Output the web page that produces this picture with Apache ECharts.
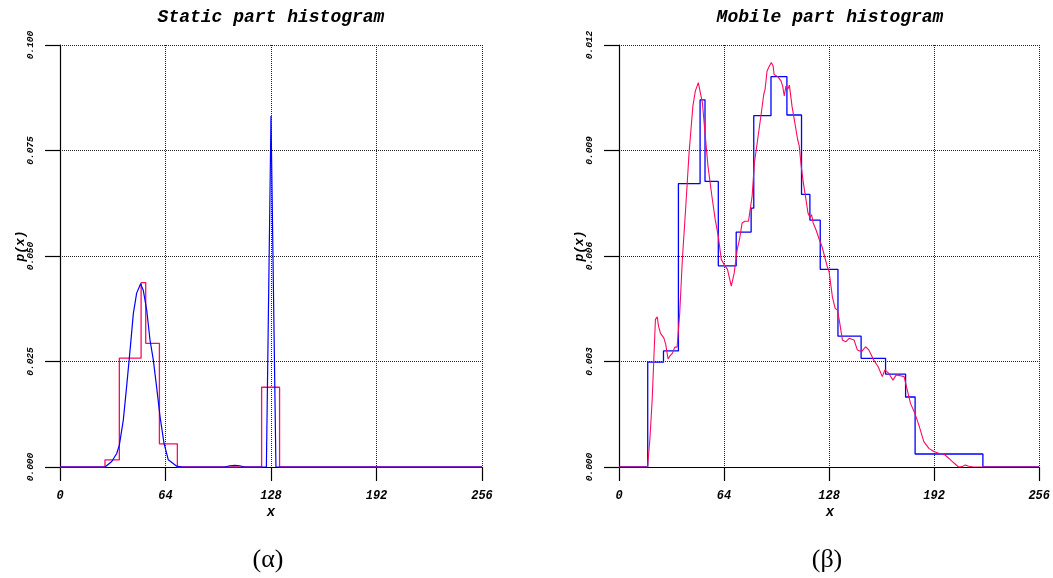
<!DOCTYPE html>
<html><head><meta charset="utf-8">
<script src="https://cdn.jsdelivr.net/npm/echarts@6/dist/echarts.min.js"></script>
<style>html,body{margin:0;padding:0;background:#fff}#c{width:1053px;height:578px}</style>
</head><body><div id="c"></div><script>
// ---- data ----
const xTicks = [0, 64, 128, 192, 256];
const staticYTicks = [0, 0.025, 0.05, 0.075, 0.1];
const mobileYTicks = [0, 0.003, 0.006, 0.009, 0.012];

// Static part: fitted density (blue)
const staticCurve = [[0,0],[27.3,0],[31.4,0.0013],[34.4,0.0032],[36.0,0.0052],[38.4,0.0111],[40.4,0.0190],[42.5,0.0277],[44.5,0.0364],[46.5,0.0412],[48.9,0.0434],[50.5,0.0419],[52.6,0.0372],[54.6,0.0301],[56.6,0.0254],[58.6,0.0190],[60.7,0.0119],[63.1,0.0056],[65.7,0.0017],[70.8,0.0002],[74,0],[100,0],[103,0.0003],[106,0.0004],[109,0.0003],[112,0],[125.2,0],[128,0.0832],[131,0],[256,0]];
// Static part: histogram (red) bin edges / heights
const staticBinEdges = [27.3, 36.0, 49.2, 52.0, 60.3, 71.2, 122.3, 133.2];
const staticBinHeights = [0.0017, 0.0258, 0.0437, 0.0293, 0.0055, 0, 0.0189];

// Mobile part: histogram (blue) bin edges / heights
const mobileBinEdges = [17.5, 27.1, 36.2, 49.4, 52.4, 60.5, 71.4, 80.5, 82.1, 92.6, 102.3, 111.2, 116.3, 122.6, 133.4, 147.5, 162.4, 174.6, 180.4, 221.7];
const mobileBinHeights = [0.00298, 0.0033, 0.00806, 0.01044, 0.00812, 0.00572, 0.00668, 0.00736, 0.00999, 0.0111, 0.01001, 0.00775, 0.00702, 0.00562, 0.00372, 0.00309, 0.00264, 0.00199, 0.00037];
// Mobile part: density estimate (red)
const mobileCurve = [[0,0],[17.4,0],[18.8,0.00078],[20.2,0.0019],[21.2,0.00305],[22.2,0.0042],[23.3,0.00427],[24.1,0.0040],[25.3,0.0038],[27.3,0.00367],[28.5,0.00348],[29.9,0.00307],[30.9,0.00315],[32.6,0.00324],[34.0,0.00341],[35.4,0.00341],[37.0,0.00438],[38.6,0.0059],[40.7,0.00742],[42.7,0.00894],[45.0,0.01026],[46.5,0.01069],[48.3,0.01093],[49.4,0.01093],[50.8,0.01036],[52.4,0.0095],[54.2,0.00856],[56.6,0.0077],[58.6,0.00704],[60.5,0.00656],[62.3,0.0059],[64.3,0.00574],[66.1,0.00562],[68.4,0.00514],[70.2,0.00552],[72.0,0.00618],[73.4,0.00647],[75.0,0.00694],[76.7,0.00699],[78.9,0.00699],[79.7,0.00699],[81.1,0.0077],[82.5,0.00865],[84.5,0.00932],[86.6,0.01003],[88.2,0.0106],[89.0,0.01074],[90.2,0.01126],[91.6,0.0114],[92.8,0.0115],[93.9,0.0114],[94.5,0.01116],[95.3,0.01121],[96.7,0.0111],[98.7,0.01098],[99.7,0.01083],[100.7,0.01055],[101.7,0.01083],[102.8,0.01074],[103.8,0.01086],[105.4,0.01026],[106.8,0.00988],[108.8,0.00932],[109.8,0.00913],[111.0,0.00856],[112.3,0.00808],[113.9,0.00761],[115.1,0.00723],[116.3,0.00709],[117.3,0.00718],[118.3,0.00694],[120.3,0.00671],[122.0,0.00647],[123.6,0.00628],[125.2,0.006],[126.8,0.00571],[128.0,0.00555],[130.0,0.00484],[131.7,0.00451],[133.1,0.00446],[134.5,0.00409],[136.1,0.00361],[138.1,0.00356],[140.2,0.00366],[143.2,0.00361],[145.2,0.00333],[147.8,0.00328],[150.2,0.00342],[152.2,0.00333],[155.2,0.00304],[157.9,0.00285],[160.4,0.00257],[162.0,0.00276],[164.4,0.00266],[166.9,0.00247],[168.9,0.00262],[172.1,0.00259],[173.7,0.00257],[175.6,0.00219],[177.6,0.00181],[180.2,0.00153],[182.7,0.00119],[185.7,0.00072],[188.8,0.00053],[191.8,0.00044],[194.8,0.00039],[197.9,0.00037],[200.9,0.00025],[203.9,0.00012],[206.9,0],[209.0,0.00001],[211.0,0.00006],[213.0,0.00002],[216.0,0],[256,0]];

const titles = ['Static part histogram', 'Mobile part histogram'];
const captions = ['(\u03b1)', '(\u03b2)'];

// ---- build ----
function steps(edges, heights) {
  const pts = [[0, 0], [edges[0], 0]];
  for (let i = 0; i < heights.length; i++) {
    pts.push([edges[i], heights[i]], [edges[i + 1], heights[i]]);
  }
  pts.push([edges[edges.length - 1], 0], [256, 0]);
  return pts;
}
const RED = '#ff0a5e', BLUE = '#0000ff';
const lblFont = {fontFamily: 'Liberation Mono', fontStyle: 'italic', fontWeight: 'bold', color: '#000'};
const gridLefts = [60, 619];

function xAxis(i) {
  return {gridIndex: i, type: 'value', min: 0, max: 256, interval: 64,
    axisLine: {onZero: false, lineStyle: {color: '#000', width: 1.2}},
    axisTick: {length: 14, lineStyle: {color: '#000', width: 1.2}},
    splitLine: {show: true, lineStyle: {color: '#222', type: [1, 1], width: 1}},
    axisLabel: Object.assign({fontSize: 12, margin: 23, formatter: v => String(v)}, lblFont)};
}
function yAxis(i, ticks) {
  return {gridIndex: i, type: 'value', min: ticks[0], max: ticks[ticks.length - 1], interval: ticks[1] - ticks[0],
    axisLine: {show: true, lineStyle: {color: '#000', width: 1.2}},
    axisTick: {show: true, length: 15, lineStyle: {color: '#000', width: 1.2}},
    splitLine: {show: true, lineStyle: {color: '#222', type: [1, 1], width: 1}},
    axisLabel: Object.assign({fontSize: 9.5, margin: 24, rotate: 90, formatter: v => v.toFixed(3)}, lblFont)};
}

const graphics = [];
[0, 1].forEach(i => {
  const cx = gridLefts[i] + 211;
  graphics.push({type: 'text', x: cx, y: 17, style: {text: titles[i], align: 'center', verticalAlign: 'middle', font: 'italic bold 18px "Liberation Mono"', fill: '#000'}});
  graphics.push({type: 'text', x: cx, y: 512, style: {text: 'x', align: 'center', verticalAlign: 'middle', font: 'italic bold 14px "Liberation Mono"', fill: '#000'}});
  graphics.push({type: 'text', x: gridLefts[i] - 39, y: 246, rotation: Math.PI / 2, style: {text: 'p(x)', align: 'center', verticalAlign: 'middle', font: 'italic bold 13px "Liberation Mono"', fill: '#000'}});
  graphics.push({type: 'text', x: cx - 3, y: 560, style: {text: captions[i], align: 'center', verticalAlign: 'middle', font: '26px "Liberation Serif"', fill: '#000'}});
});

const chart = echarts.init(document.getElementById('c'), null, {renderer: 'canvas'});
chart.setOption({
  animation: false,
  backgroundColor: '#fff',
  grid: gridLefts.map(l => ({left: l, top: 45, width: 422, height: 422, containLabel: false})),
  xAxis: [xAxis(0), xAxis(1)],
  yAxis: [yAxis(0, staticYTicks), yAxis(1, mobileYTicks)],
  graphic: graphics,
  series: [
    {type: 'line', xAxisIndex: 0, yAxisIndex: 0, data: steps(staticBinEdges, staticBinHeights), showSymbol: false, lineStyle: {color: RED, width: 1.3}, z: 2},
    {type: 'line', xAxisIndex: 0, yAxisIndex: 0, data: staticCurve, showSymbol: false, lineStyle: {color: BLUE, width: 1.2}, z: 3},
    {type: 'line', xAxisIndex: 1, yAxisIndex: 1, data: steps(mobileBinEdges, mobileBinHeights), showSymbol: false, lineStyle: {color: BLUE, width: 1.3}, z: 2},
    {type: 'line', xAxisIndex: 1, yAxisIndex: 1, data: mobileCurve, showSymbol: false, lineStyle: {color: RED, width: 1.1}, z: 3}
  ]
});
</script></body></html>
